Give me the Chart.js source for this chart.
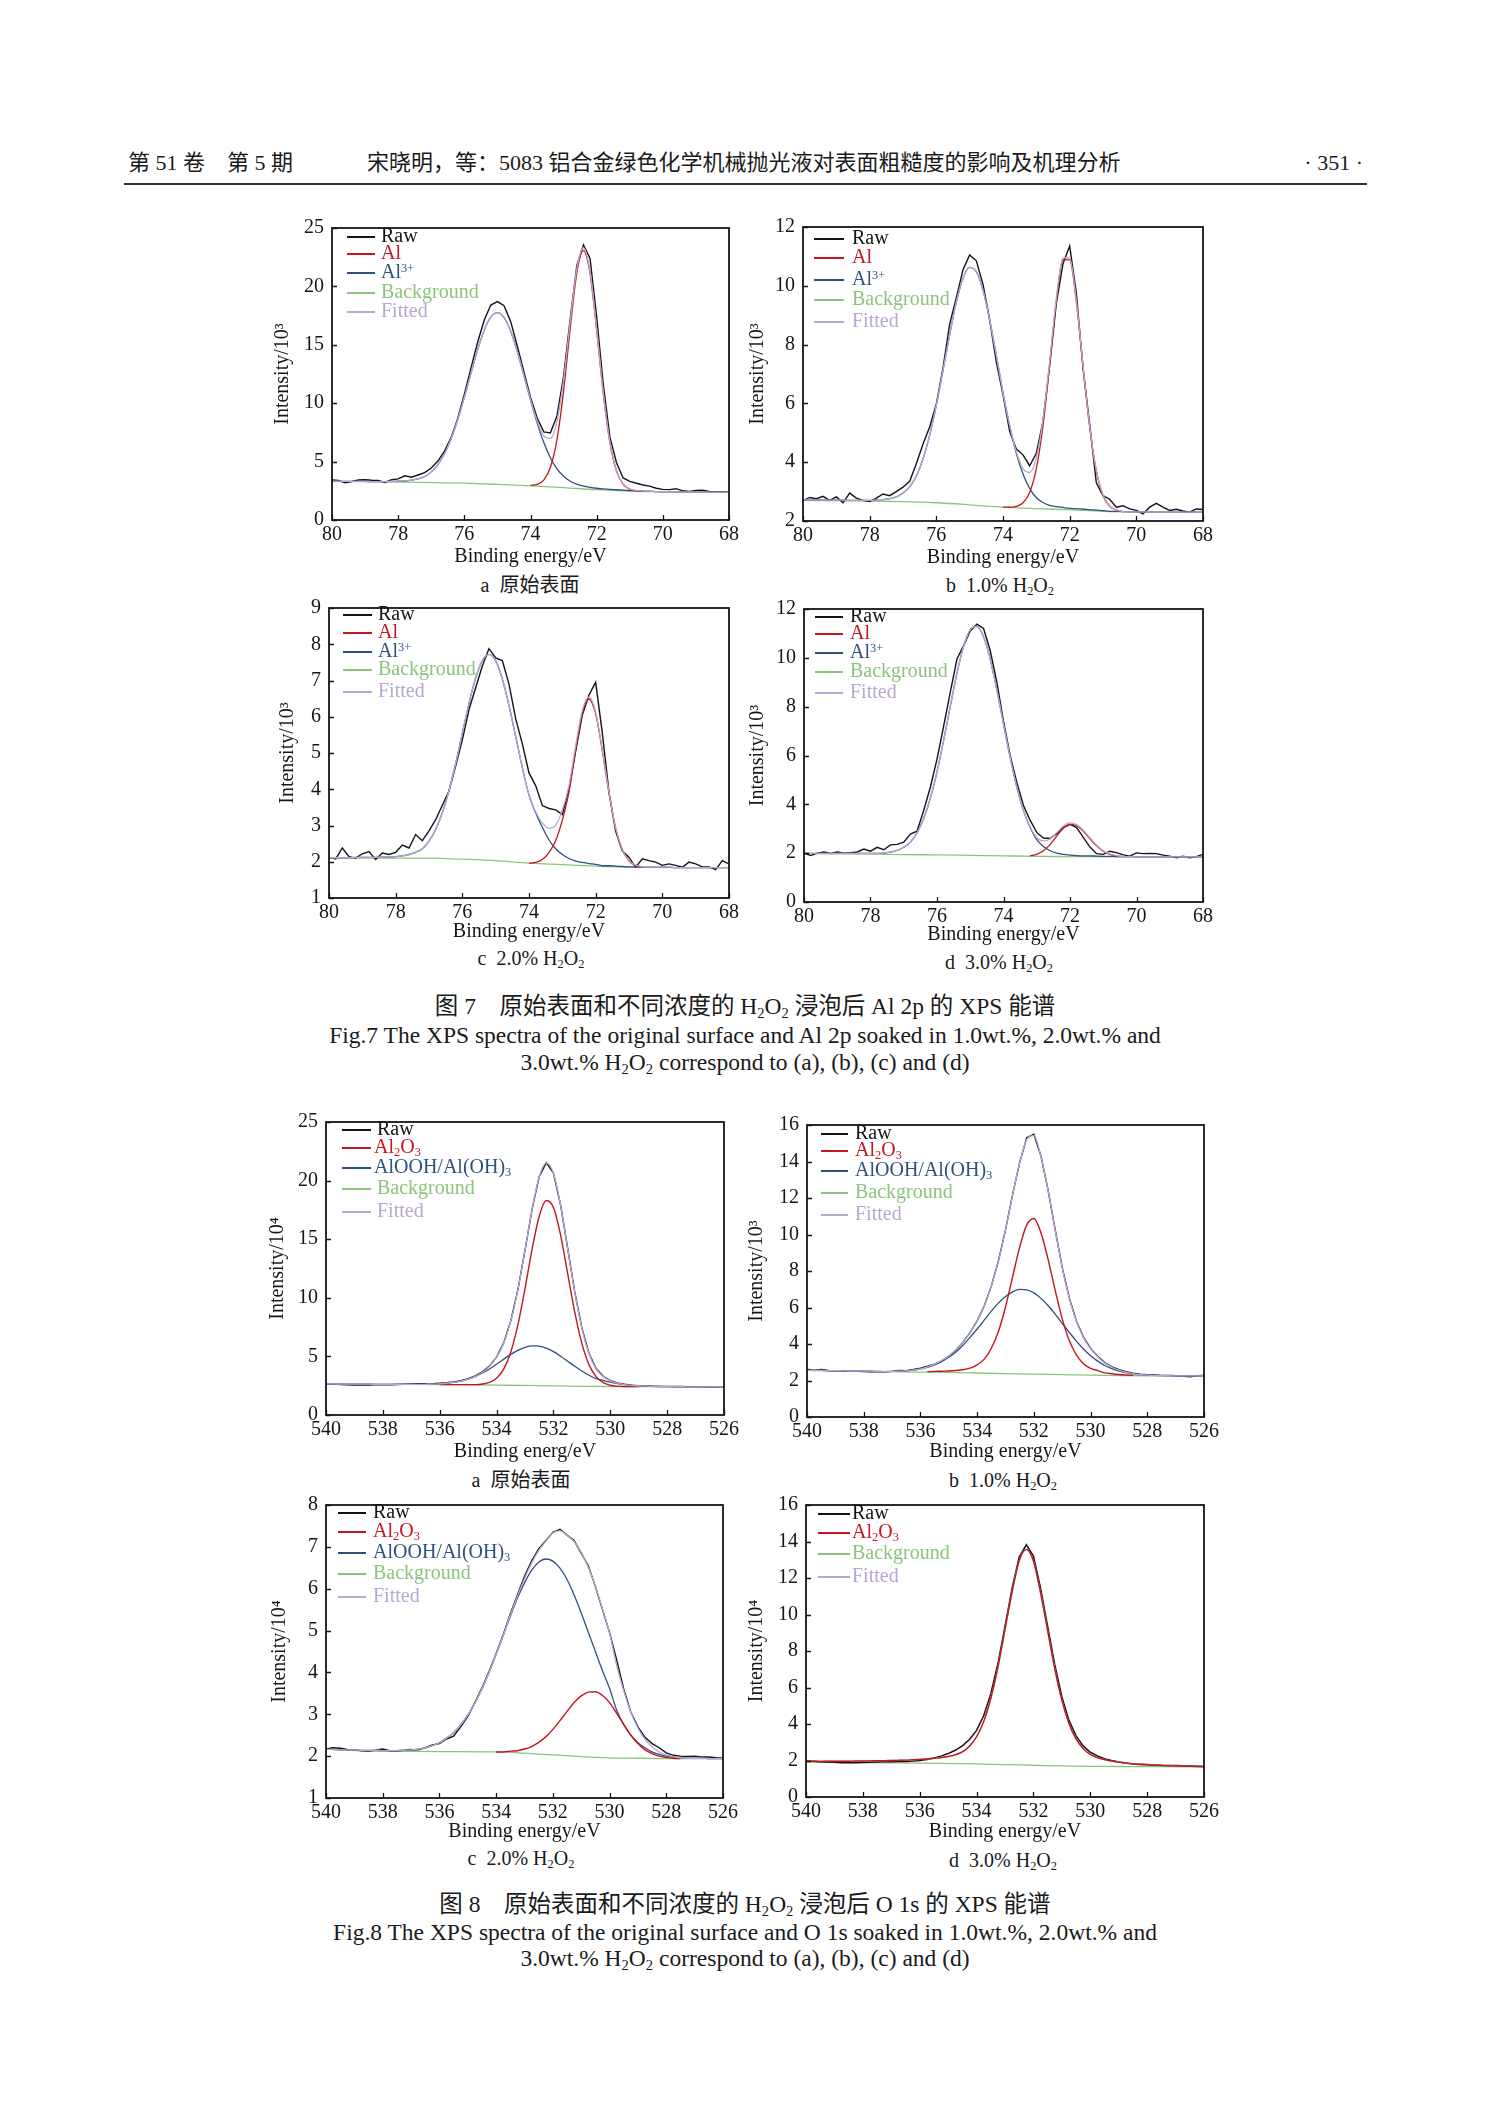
<!DOCTYPE html>
<html lang="zh-CN">
<head>
<meta charset="utf-8">
<title>Fig.7 / Fig.8 XPS spectra</title>
<script src="https://cdn.jsdelivr.net/npm/chart.js@4.4.1/dist/chart.umd.min.js"></script>
<style>
html,body{margin:0;padding:0;background:#fff;}
body{position:relative;width:1489px;height:2106px;overflow:hidden;font-family:'Liberation Serif','Noto Sans CJK SC',serif;color:#1a1a1a;}
.t{position:absolute;white-space:nowrap;line-height:1;}
.c{transform:translate(-50%,-50%);}
.cap{position:absolute;left:245px;width:1000px;text-align:center;font-size:23.5px;line-height:1;white-space:nowrap;}
sub{font-size:0.62em;vertical-align:-0.28em;line-height:0;}
sup{font-size:0.62em;vertical-align:0.48em;line-height:0;}
.lg{position:absolute;font-size:20px;line-height:20px;white-space:nowrap;}
.ln{position:absolute;height:1.4px;}
canvas{position:absolute;}
</style>
</head>
<body>
<div class="t" style="left:128px;top:152px;font-size:22px;">第 51 卷　第 5 期</div>
<div class="t" style="left:367px;top:152px;font-size:22px;">宋晓明，等：5083 铝合金绿色化学机械抛光液对表面粗糙度的影响及机理分析</div>
<div class="t" style="right:126px;top:152px;font-size:22px;">· 351 ·</div>
<div style="position:absolute;left:124px;top:183px;width:1243px;height:1.6px;background:#333;"></div>

<div class="t c" style="left:530px;top:585px;font-size:20px;">a&nbsp;&nbsp;原始表面</div>
<div class="t c" style="left:1000px;top:585px;font-size:20px;">b&nbsp;&nbsp;1.0% H<sub>2</sub>O<sub>2</sub></div>
<div class="t c" style="left:531px;top:958px;font-size:20px;">c&nbsp;&nbsp;2.0% H<sub>2</sub>O<sub>2</sub></div>
<div class="t c" style="left:999px;top:962px;font-size:20px;">d&nbsp;&nbsp;3.0% H<sub>2</sub>O<sub>2</sub></div>

<div class="cap" style="top:995px;">图 7　原始表面和不同浓度的 H<sub>2</sub>O<sub>2</sub> 浸泡后 Al 2p 的 XPS 能谱</div>
<div class="cap" style="top:1024px;">Fig.7 The XPS spectra of the original surface and Al 2p soaked in 1.0wt.%, 2.0wt.% and</div>
<div class="cap" style="top:1051px;">3.0wt.% H<sub>2</sub>O<sub>2</sub> correspond to (a), (b), (c) and (d)</div>

<div class="t c" style="left:521px;top:1480px;font-size:20px;">a&nbsp;&nbsp;原始表面</div>
<div class="t c" style="left:1003px;top:1480px;font-size:20px;">b&nbsp;&nbsp;1.0% H<sub>2</sub>O<sub>2</sub></div>
<div class="t c" style="left:521px;top:1858px;font-size:20px;">c&nbsp;&nbsp;2.0% H<sub>2</sub>O<sub>2</sub></div>
<div class="t c" style="left:1003px;top:1860px;font-size:20px;">d&nbsp;&nbsp;3.0% H<sub>2</sub>O<sub>2</sub></div>

<div class="cap" style="top:1893px;">图 8　原始表面和不同浓度的 H<sub>2</sub>O<sub>2</sub> 浸泡后 O 1s 的 XPS 能谱</div>
<div class="cap" style="top:1921px;">Fig.8 The XPS spectra of the original surface and O 1s soaked in 1.0wt.%, 2.0wt.% and</div>
<div class="cap" style="top:1947px;">3.0wt.% H<sub>2</sub>O<sub>2</sub> correspond to (a), (b), (c) and (d)</div>

<script>
// ---------------- DATA ----------------
// Binding-energy grids (eV)
const E_AL = [80,79.8,79.6,79.4,79.2,79,78.8,78.6,78.4,78.2, 78,77.8,77.6,77.4,77.2,77,76.8,76.6,76.4,76.2,
  76,75.8,75.6,75.4,75.2,75,74.8,74.6,74.4,74.2, 74,73.8,73.6,73.4,73.2,73,72.8,72.6,72.4,72.2,
  72,71.8,71.6,71.4,71.2,71,70.8,70.6,70.4,70.2, 70,69.8,69.6,69.4,69.2,69,68.8,68.6,68.4,68.2, 68];
const E_O = [540,539.75,539.5,539.25,539,538.75,538.5,538.25, 538,537.75,537.5,537.25,537,536.75,536.5,536.25,
  536,535.75,535.5,535.25,535,534.75,534.5,534.25, 534,533.75,533.5,533.25,533,532.75,532.5,532.25,
  532,531.75,531.5,531.25,531,530.75,530.5,530.25, 530,529.75,529.5,529.25,529,528.75,528.5,528.25,
  528,527.75,527.5,527.25,527,526.75,526.5,526.25, 526];

// Fig.7a  原始表面 (Al 2p, ×10^3)
const f7a_raw = [3.42,3.38,3.18,3.30,3.42,3.45,3.40,3.38,3.22,3.45, 3.52,3.78,3.66,3.85,4.05,4.45,5.05,5.90,7.05,8.70,
  10.75,13.00,15.20,17.10,18.40,18.70,18.35,17.00,14.90,12.70, 10.50,8.75,7.55,7.45,8.90,12.30,17.20,21.80,23.55,22.40,
  17.40,11.60,7.10,4.90,3.60,3.30,3.15,3.00,2.90,2.72, 2.62,2.60,2.68,2.50,2.45,2.52,2.55,2.44,2.40,2.42, 2.38];
const f7a_al3 = [3.32,3.32,3.31,3.31,3.30,3.30,3.29,3.29,3.29,3.31, 3.32,3.34,3.41,3.52,3.72,4.12,4.75,5.67,6.95,8.58,
  10.50,12.56,14.56,16.25,17.37,17.75,17.33,16.16,14.43,12.38, 10.28,8.32,6.65,5.33,4.37,3.74,3.32,3.07,2.91,2.80,
  2.72,2.66,2.62,2.59,2.55,2.52,2.50,2.48,2.46,2.43, 2.42,2.42,2.41,2.41,2.40,2.40,2.40,2.39,2.39,2.38, 2.38];
const f7a_fit = [3.32,3.32,3.31,3.31,3.30,3.30,3.29,3.29,3.29,3.31, 3.32,3.34,3.41,3.52,3.72,4.12,4.75,5.67,6.95,8.58,
  10.50,12.56,14.56,16.25,17.37,17.75,17.33,16.16,14.43,12.38, 10.31,8.47,7.20,6.98,8.45,11.99,16.96,21.52,23.31,21.25,
  16.36,10.91,6.70,4.24,3.10,2.67,2.53,2.48,2.46,2.43, 2.42,2.42,2.41,2.41,2.40,2.40,2.40,2.39,2.39,2.38, 2.38];
const f7a_alE = [74,73.8,73.6,73.4,73.2,73,72.8,72.6,72.4,72.2,72,71.8,71.6,71.4,71.2,71,70.8,70.6];
const f7a_al  = [2.96,3.05,3.42,4.49,6.89,11.03,16.38,21.16,23.07,21.09,16.24,10.83,6.63,4.18,3.05,2.63,2.50,2.46];
const f7a_bgE = [80,79,78,77,76,75,74,73,72,71,70,69,68];
const f7a_bg  = [3.30,3.28,3.25,3.20,3.15,3.05,2.93,2.78,2.60,2.48,2.42,2.40,2.38];

// Fig.7b  1.0% H2O2
const f7b_raw = [2.69,2.80,2.76,2.84,2.70,2.82,2.62,2.95,2.78,2.70, 2.66,2.78,2.92,2.86,3.00,3.15,3.35,3.95,4.62,5.20,
  5.98,7.20,8.70,9.60,10.55,11.05,10.85,10.05,8.85,7.40, 6.30,5.05,4.45,4.25,3.88,4.30,5.40,7.30,9.40,10.75,
  11.35,9.75,7.20,5.30,3.30,2.86,2.74,2.47,2.52,2.41, 2.36,2.24,2.47,2.60,2.47,2.36,2.40,2.34,2.30,2.41, 2.39];
const f7b_al3 = [2.72,2.72,2.72,2.71,2.71,2.71,2.71,2.70,2.70,2.70, 2.70,2.72,2.73,2.76,2.82,2.95,3.16,3.53,4.11,4.91,
  5.94,7.12,8.34,9.45,10.26,10.63,10.48,9.85,8.84,7.63, 6.37,5.24,4.30,3.60,3.11,2.79,2.63,2.53,2.49,2.46,
  2.43,2.42,2.40,2.39,2.37,2.35,2.33,2.33,2.32,2.31, 2.31,2.31,2.31,2.30,2.30,2.30,2.30,2.30,2.30,2.30, 2.30];
const f7b_fit = [2.72,2.72,2.72,2.71,2.71,2.71,2.71,2.70,2.70,2.70, 2.70,2.72,2.73,2.76,2.82,2.95,3.16,3.53,4.11,4.91,
  5.94,7.12,8.34,9.45,10.26,10.63,10.48,9.85,8.84,7.63, 6.37,5.25,4.35,3.78,3.65,4.15,5.46,7.44,9.57,10.96,
  10.93,9.50,7.31,5.22,3.73,2.89,2.51,2.38,2.32,2.31, 2.31,2.31,2.31,2.30,2.30,2.30,2.30,2.30,2.30,2.30, 2.30];
const f7b_alE = [74,73.8,73.6,73.4,73.2,73,72.8,72.6,72.4,72.2,72,71.8,71.6,71.4,71.2,71,70.8,70.6,70.4];
const f7b_al  = [2.47,2.47,2.50,2.62,2.97,3.78,5.24,7.31,9.48,10.89,10.88,9.45,7.27,5.18,3.70,2.87,2.50,2.37,2.32];
const f7b_bgE = [80,78,77,76,75,74,73,72,71,70,68];
const f7b_bg  = [2.70,2.68,2.66,2.62,2.55,2.47,2.42,2.38,2.33,2.31,2.30];

// Fig.7c  2.0% H2O2
const f7c_raw = [2.12,2.08,2.38,2.14,2.10,2.22,2.28,2.06,2.24,2.20, 2.26,2.46,2.38,2.75,2.58,2.85,3.16,3.56,3.95,4.64,
  5.36,6.20,6.80,7.40,7.88,7.62,7.55,6.90,5.95,5.25, 4.45,4.10,3.55,3.47,3.43,3.30,4.00,5.05,6.05,6.60,
  6.95,5.55,3.92,2.84,2.30,2.12,1.85,2.08,2.03,1.99, 1.90,1.94,1.90,1.85,1.99,1.94,1.86,1.86,1.78,2.03, 1.94];
const f7c_al3 = [2.11,2.11,2.11,2.11,2.12,2.12,2.12,2.12,2.13,2.13, 2.14,2.16,2.20,2.26,2.36,2.57,2.89,3.35,3.96,4.71,
  5.54,6.37,7.07,7.55,7.72,7.54,7.04,6.31,5.46,4.60, 3.84,3.35,2.95,2.60,2.36,2.20,2.09,2.02,1.98,1.95,
  1.93,1.89,1.89,1.88,1.87,1.86,1.86,1.85,1.85,1.85, 1.85,1.85,1.84,1.84,1.84,1.84,1.84,1.84,1.84,1.84, 1.84];
const f7c_fit = [2.11,2.11,2.11,2.11,2.12,2.12,2.12,2.12,2.13,2.13, 2.14,2.16,2.20,2.26,2.36,2.57,2.89,3.35,3.96,4.71,
  5.54,6.37,7.07,7.55,7.72,7.54,7.04,6.31,5.46,4.60, 3.84,3.38,3.07,2.92,3.01,3.43,4.11,5.21,6.18,6.55,
  6.13,5.08,3.91,2.94,2.34,2.03,1.91,1.86,1.85,1.85, 1.85,1.85,1.84,1.84,1.84,1.84,1.84,1.84,1.84,1.84, 1.84];
const f7c_alE = [74,73.8,73.6,73.4,73.2,73,72.8,72.6,72.4,72.2,72,71.8,71.6,71.4,71.2,71,70.8,70.6];
const f7c_al  = [1.96,1.98,2.06,2.25,2.58,3.15,3.93,5.09,6.10,6.49,6.08,5.06,3.89,2.92,2.33,2.02,1.90,1.86];
const f7c_bgE = [80,78,77,76,75,74,73,72,71,70,68];
const f7c_bg  = [2.10,2.10,2.10,2.07,2.03,1.96,1.92,1.88,1.85,1.84,1.84];

// Fig.7d  3.0% H2O2
const f7d_raw = [2.01,1.90,2.00,2.05,1.99,2.05,2.00,2.02,2.05,2.17, 2.08,2.24,2.14,2.34,2.36,2.45,2.78,2.90,3.75,4.70,
  5.85,7.20,8.60,9.95,10.50,11.10,11.38,11.20,10.30,9.00, 7.40,6.00,4.90,3.95,3.35,2.85,2.62,2.60,2.80,3.05,
  3.18,3.05,2.65,2.25,1.98,1.95,2.08,2.02,1.93,1.88, 2.01,1.98,1.99,1.98,1.92,1.88,1.81,1.87,1.81,1.86, 1.95];
const f7d_al3 = [1.99,1.99,1.99,1.99,1.99,1.99,1.99,1.99,1.99,1.99, 1.99,1.99,2.01,2.04,2.11,2.24,2.45,2.83,3.42,4.25,
  5.33,6.63,8.02,9.37,10.47,11.15,11.29,10.86,9.95,8.69, 7.29,5.92,4.71,3.75,3.06,2.55,2.27,2.10,2.00,1.95,
  1.92,1.90,1.89,1.89,1.88,1.87,1.87,1.86,1.86,1.86, 1.85,1.85,1.85,1.85,1.85,1.85,1.85,1.85,1.85,1.85, 1.85];
const f7d_fit = [1.99,1.99,1.99,1.99,1.99,1.99,1.99,1.99,1.99,1.99, 1.99,1.99,2.01,2.04,2.11,2.24,2.45,2.83,3.42,4.25,
  5.33,6.63,8.02,9.37,10.47,11.15,11.29,10.86,9.95,8.69, 7.29,5.92,4.71,3.75,3.09,2.63,2.50,2.58,2.84,3.11,
  3.24,3.17,2.94,2.63,2.33,2.10,1.97,1.90,1.86,1.86, 1.85,1.85,1.85,1.85,1.85,1.85,1.85,1.85,1.85,1.85, 1.85];
const f7d_alE = [73.2,73,72.8,72.6,72.4,72.2,72,71.8,71.6,71.4,71.2,71,70.8,70.6,70.4];
const f7d_al  = [1.90,1.95,2.10,2.35,2.70,3.02,3.18,3.13,2.90,2.59,2.30,2.08,1.95,1.89,1.86];
const f7d_bgE = [80,78,77,76,75,74,73,72,71,70,68];
const f7d_bg  = [1.97,1.96,1.94,1.93,1.91,1.89,1.87,1.86,1.85,1.85,1.85];

// Fig.8a  原始表面 (O 1s, ×10^4)
const f8a_raw = [2.66,2.64,2.60,2.58,2.55,2.55,2.56,2.58, 2.57,2.58,2.60,2.63,2.65,2.66,2.66,2.68,
  2.72,2.76,2.82,2.93,3.10,3.33,3.68,4.17, 4.93,6.15,8.03,10.70,14.05,17.57,20.35,21.53,
  20.65,17.94,14.23,10.50,7.43,5.27,3.96,3.30, 2.93,2.74,2.62,2.55,2.50,2.47,2.45,2.44,
  2.44,2.43,2.44,2.42,2.42,2.41,2.41,2.40, 2.40];
const f8a_oh = [2.65,2.65,2.64,2.64,2.64,2.63,2.63,2.62, 2.62,2.62,2.62,2.62,2.62,2.61,2.62,2.63,
  2.66,2.71,2.78,2.90,3.06,3.28,3.58,3.93, 4.33,4.76,5.17,5.52,5.78,5.90,5.87,5.70,
  5.41,5.02,4.59,4.16,3.75,3.39,3.10,2.95, 2.80,2.68,2.59,2.53,2.49,2.46,2.44,2.43,
  2.42,2.41,2.41,2.40,2.40,2.40,2.40,2.40, 2.40];
const f8a_fit = [2.65,2.65,2.64,2.64,2.64,2.63,2.63,2.62, 2.62,2.62,2.62,2.62,2.62,2.61,2.62,2.63,
  2.66,2.71,2.78,2.90,3.07,3.30,3.65,4.15, 4.91,6.13,8.01,10.68,14.04,17.55,20.33,21.51,
  20.63,17.92,14.21,10.48,7.41,5.25,3.94,3.28, 2.91,2.72,2.60,2.53,2.49,2.46,2.44,2.43,
  2.42,2.41,2.41,2.40,2.40,2.40,2.40,2.40, 2.40];
const f8a_oxE = [536,535.75,535.5,535.25,535,534.75,534.5,534.25,534,533.75,533.5,533.25,533,532.75,532.5,532.25,
  532,531.75,531.5,531.25,531,530.75,530.5,530.25,530,529.75,529.5,529.25,529];
const f8a_ox  = [2.60,2.60,2.59,2.59,2.59,2.59,2.64,2.78,3.13,3.91,5.38,7.69,10.78,14.16,16.96,18.30,
  17.70,15.37,12.08,8.78,6.11,4.30,3.28,2.76,2.54,2.46,2.43,2.42,2.42];
const f8a_bgE = [540,538,536,535,534,533,532,531,530,529,528,526];
const f8a_bg  = [2.65,2.62,2.60,2.58,2.55,2.52,2.48,2.45,2.43,2.42,2.41,2.40];

// Fig.8b  1.0% H2O2 (×10^3)
const f8b_raw = [2.62,2.55,2.60,2.55,2.53,2.52,2.52,2.50, 2.49,2.48,2.47,2.48,2.50,2.55,2.54,2.60,
  2.68,2.78,2.90,3.08,3.33,3.66,4.10,4.62, 5.27,6.08,7.17,8.55,10.25,12.18,13.95,15.30,
  15.50,14.30,12.45,10.28,8.20,6.52,5.26,4.37, 3.76,3.33,2.98,2.76,2.60,2.48,2.40,2.35,
  2.32,2.30,2.28,2.28,2.26,2.25,2.20,2.26, 2.28];
const f8b_oh = [2.56,2.55,2.55,2.54,2.54,2.53,2.52,2.52, 2.51,2.51,2.50,2.49,2.50,2.51,2.53,2.57,
  2.63,2.72,2.85,3.03,3.27,3.56,3.93,4.36, 4.82,5.31,5.80,6.24,6.60,6.86,6.99,6.96,
  6.80,6.50,6.11,5.64,5.13,4.63,4.16,3.73, 3.36,3.06,2.82,2.65,2.51,2.43,2.36,2.32,
  2.29,2.28,2.27,2.26,2.25,2.25,2.25,2.25, 2.25];
const f8b_fit = [2.56,2.55,2.55,2.54,2.54,2.53,2.52,2.52, 2.51,2.51,2.50,2.49,2.50,2.51,2.53,2.57,
  2.63,2.75,2.90,3.10,3.35,3.68,4.10,4.62, 5.27,6.08,7.17,8.54,10.25,12.16,13.93,15.20,
  15.42,14.26,12.42,10.26,8.19,6.51,5.25,4.35, 3.74,3.31,2.96,2.74,2.57,2.46,2.38,2.32,
  2.29,2.28,2.27,2.26,2.25,2.25,2.25,2.25, 2.25];
const f8b_oxE = [535.75,535.5,535.25,535,534.75,534.5,534.25,534,533.75,533.5,533.25,533,532.75,532.5,532.25,
  532,531.75,531.5,531.25,531,530.75,530.5,530.25,530,529.75,529.5,529.25,529,528.75,528.5];
const f8b_ox  = [2.48,2.50,2.51,2.52,2.55,2.59,2.68,2.86,3.17,3.77,4.69,6.03,7.67,9.31,10.53,
  10.88,10.10,8.65,6.95,5.38,4.19,3.40,2.92,2.67,2.54,2.42,2.37,2.33,2.30,2.28];
const f8b_bgE = [540,538,536,535,534,533,532,531,530,529,528,526];
const f8b_bg  = [2.55,2.50,2.46,2.44,2.41,2.38,2.35,2.32,2.29,2.27,2.26,2.25];

// Fig.8c  2.0% H2O2 (×10^4)
const f8c_raw = [2.17,2.20,2.19,2.16,2.15,2.13,2.12,2.14, 2.17,2.13,2.13,2.14,2.16,2.15,2.20,2.27,
  2.30,2.41,2.48,2.70,2.95,3.28,3.63,4.02, 4.45,4.90,5.40,5.85,6.30,6.66,6.95,7.15,
  7.35,7.42,7.28,7.15,6.85,6.55,6.05,5.50, 4.95,4.30,3.60,3.05,2.70,2.45,2.30,2.20,
  2.08,2.02,2.00,1.99,2.00,1.98,1.98,1.96, 1.95];
const f8c_oh = [2.16,2.16,2.15,2.15,2.15,2.14,2.14,2.14, 2.13,2.13,2.13,2.14,2.15,2.17,2.20,2.25,
  2.32,2.43,2.56,2.75,2.98,3.27,3.61,4.00, 4.44,4.88,5.34,5.77,6.14,6.44,6.63,6.71,
  6.66,6.49,6.22,5.85,5.42,4.96,4.50,4.04, 3.62,3.10,2.75,2.50,2.32,2.20,2.10,2.04,
  2.00,1.98,1.96,1.95,1.95,1.95,1.94,1.94, 1.94];
const f8c_fit = [2.16,2.16,2.15,2.15,2.15,2.14,2.14,2.14, 2.13,2.13,2.13,2.14,2.15,2.17,2.20,2.25,
  2.32,2.43,2.56,2.75,2.98,3.27,3.61,4.00, 4.44,4.88,5.37,5.82,6.24,6.61,6.91,7.13,
  7.33,7.38,7.28,7.13,6.87,6.51,6.06,5.52, 4.94,4.16,3.56,3.05,2.67,2.40,2.22,2.10,
  2.03,1.99,1.96,1.95,1.95,1.95,1.94,1.94, 1.94];
const f8c_oxE = [534,533.75,533.5,533.25,533,532.75,532.5,532.25,532,531.75,531.5,531.25,531,530.75,530.5,530.25,
  530,529.75,529.5,529.25,529,528.75,528.5,528.25,528,527.75,527.5];
const f8c_ox  = [2.10,2.10,2.12,2.13,2.17,2.23,2.33,2.46,2.64,2.85,3.07,3.28,3.44,3.53,3.54,3.45,
  3.28,3.02,2.76,2.50,2.30,2.15,2.06,2.00,1.97,1.95,1.94];
const f8c_bgE = [540,538,536,534,533,532,531,530,529,528,526];
const f8c_bg  = [2.16,2.12,2.11,2.10,2.07,2.03,1.99,1.96,1.95,1.94,1.94];

// Fig.8d  3.0% H2O2 (×10^4)
const f8d_raw = [1.97,1.96,1.93,1.92,1.90,1.88,1.88,1.88, 1.89,1.90,1.92,1.93,1.93,1.94,1.95,1.97,
  2.00,2.06,2.14,2.24,2.38,2.56,2.80,3.15, 3.65,4.45,5.65,7.30,9.35,11.45,13.15,13.82,
  13.20,11.45,9.35,7.25,5.50,4.20,3.35,2.80, 2.45,2.25,2.10,2.00,1.92,1.86,1.81,1.80,
  1.78,1.76,1.74,1.73,1.72,1.71,1.70,1.69, 1.67];
const f8d_ox = [1.96,1.96,1.95,1.96,1.96,1.96,1.96,1.97, 1.97,1.98,1.99,1.99,2.00,2.01,2.02,2.04,
  2.06,2.08,2.12,2.16,2.22,2.31,2.47,2.78, 3.30,4.13,5.40,7.11,9.17,11.24,12.95,13.57,
  12.93,11.20,9.12,7.04,5.31,4.03,3.18,2.65, 2.33,2.16,2.05,1.97,1.91,1.86,1.81,1.78,
  1.76,1.74,1.73,1.71,1.70,1.69,1.68,1.67, 1.67];
const f8d_fit = [1.96,1.96,1.95,1.96,1.96,1.96,1.96,1.97, 1.97,1.98,1.99,1.99,2.00,2.01,2.02,2.04,
  2.06,2.08,2.12,2.16,2.22,2.31,2.47,2.78, 3.30,4.13,5.40,7.11,9.17,11.24,12.95,13.57,
  12.93,11.20,9.12,7.04,5.31,4.03,3.18,2.65, 2.33,2.16,2.05,1.97,1.91,1.86,1.81,1.78,
  1.76,1.74,1.73,1.71,1.70,1.69,1.68,1.67, 1.67];
const f8d_bgE = [540,538,536,534,533,532,531,530,529,528,526];
const f8d_bg  = [1.91,1.88,1.86,1.81,1.77,1.74,1.70,1.68,1.67,1.66,1.65];

// Legend labels
const LAB_AL = ['Raw','Al','Al<sup>3+</sup>','Background','Fitted'];
const LAB_O  = ['Raw','Al<sub>2</sub>O<sub>3</sub>','AlOOH/Al(OH)<sub>3</sub>','Background','Fitted'];
const LAB_O4 = ['Raw','Al<sub>2</sub>O<sub>3</sub>','Background','Fitted'];

// ---------------- STYLE ----------------
const FONT = "'Liberation Serif', 'Times New Roman', serif";
const COL = {raw:'#141414', red:'#c3161d', blue:'#2f507f', bg:'#8cc47f', fit:'#b8a7d3'};
const COLS5 = [COL.raw, COL.red, COL.blue, COL.bg, COL.fit];
const COLS4 = [COL.raw, COL.red, COL.bg, COL.fit];

function ds(xs, ys, color, w, smooth){
  return {data: xs.map((x,i)=>({x:x, y:ys[i]})), borderColor: color, borderWidth: w,
    pointRadius: 0, fill: false, tension: 0, cubicInterpolationMode: smooth ? 'monotone' : 'default'};
}

const framePlugin = {
  id: 'frameTicks',
  afterDraw(chart){
    const {ctx, chartArea: a, scales} = chart;
    ctx.save();
    ctx.strokeStyle = '#151515';
    ctx.lineWidth = 1.3;
    ctx.beginPath();
    scales.x.ticks.forEach(t => { const px = Math.round(scales.x.getPixelForValue(t.value)) + 0.5; ctx.moveTo(px, a.bottom); ctx.lineTo(px, a.bottom - 5); });
    scales.y.ticks.forEach(t => { const py = Math.round(scales.y.getPixelForValue(t.value)) + 0.5; ctx.moveTo(a.left, py); ctx.lineTo(a.left + 5, py); });
    ctx.stroke();
    ctx.lineWidth = 1.8;
    ctx.strokeRect(a.left, a.top, a.right - a.left, a.bottom - a.top);
    ctx.restore();
  }
};

function makeChart(s){
  const W = s.yOff + 12, Hx = s.xOff + 12, padTop = 14, padRight = 22;
  const left = s.L - W, top = s.T - padTop;
  const width = W + (s.R - s.L) + padRight;
  const height = padTop + (s.B - s.T) + Hx;
  const cv = document.createElement('canvas');
  cv.width = width; cv.height = height;
  cv.style.left = left + 'px'; cv.style.top = top + 'px';
  cv.style.width = width + 'px'; cv.style.height = height + 'px';
  document.body.appendChild(cv);
  const tickFont = {family: FONT, size: 20};
  new Chart(cv, {
    type: 'line',
    data: {datasets: s.sets},
    options: {
      responsive: false, animation: false, devicePixelRatio: 1,
      layout: {padding: {left: 0, top: padTop, right: padRight, bottom: 0}},
      plugins: {legend: {display: false}, tooltip: {enabled: false}},
      scales: {
        x: {type: 'linear', reverse: true, min: s.xmin, max: s.xmax,
            grid: {display: false, drawTicks: false, tickLength: 0}, border: {display: false},
            ticks: {stepSize: 2, padding: 3, color: '#161616', font: tickFont, maxRotation: 0, autoSkip: false},
            title: {display: true, text: s.xTitle, color: '#161616', font: tickFont, padding: 0},
            afterFit(sc){ sc.height = Hx; }},
        y: {type: 'linear', min: s.ymin, max: s.ymax,
            grid: {display: false, drawTicks: false, tickLength: 0}, border: {display: false},
            ticks: {stepSize: s.ystep, padding: 8, color: '#161616', font: tickFont, autoSkip: false},
            title: {display: true, text: s.yTitle, color: '#161616', font: tickFont, padding: 0},
            afterFit(sc){ sc.width = W; }}
      }
    },
    plugins: [framePlugin]
  });
}

function legend(lx1, lx2, tx, ys, labels, colors){
  labels.forEach((lab, i) => {
    const ln = document.createElement('div');
    ln.className = 'ln';
    ln.style.left = lx1 + 'px'; ln.style.top = (ys[i] - 0.7) + 'px';
    ln.style.width = (lx2 - lx1) + 'px'; ln.style.background = colors[i];
    document.body.appendChild(ln);
    const t = document.createElement('div');
    t.className = 'lg';
    const x = Array.isArray(tx) ? tx[i] : tx;
    t.style.left = x + 'px'; t.style.top = (ys[i] - 12) + 'px'; t.style.color = colors[i];
    t.innerHTML = lab;
    document.body.appendChild(t);
  });
}

// ---------------- CHARTS ----------------
const AL = {xmin: 68, xmax: 80, xTitle: 'Binding energy/eV'};
const OX = {xmin: 526, xmax: 540};

makeChart(Object.assign({L:332,T:222,R:729,B:520,yOff:49,xOff:37,ymin:0,ymax:25,ystep:5,yTitle:'Intensity/10³',
  sets:[ds(E_AL,f7a_fit,COL.fit,1.3,true), ds(f7a_alE,f7a_al,COL.red,1.3,true), ds(E_AL,f7a_al3,COL.blue,1.3,true),
        ds(E_AL,f7a_raw,COL.raw,1.4,false), ds(f7a_bgE,f7a_bg,COL.bg,1.3,true)]}, AL));
makeChart(Object.assign({L:803,T:221,R:1203,B:521,yOff:45,xOff:37,ymin:2,ymax:12,ystep:2,yTitle:'Intensity/10³',
  sets:[ds(E_AL,f7b_fit,COL.fit,1.3,true), ds(f7b_alE,f7b_al,COL.red,1.3,true), ds(E_AL,f7b_al3,COL.blue,1.3,true),
        ds(E_AL,f7b_raw,COL.raw,1.4,false), ds(f7b_bgE,f7b_bg,COL.bg,1.3,true)]}, AL));
makeChart(Object.assign({L:329,T:602,R:729,B:898,yOff:41,xOff:34,ymin:1,ymax:9,ystep:1,yTitle:'Intensity/10³',
  sets:[ds(E_AL,f7c_fit,COL.fit,1.3,true), ds(f7c_alE,f7c_al,COL.red,1.3,true), ds(E_AL,f7c_al3,COL.blue,1.3,true),
        ds(E_AL,f7c_raw,COL.raw,1.4,false), ds(f7c_bgE,f7c_bg,COL.bg,1.3,true)]}, AL));
makeChart(Object.assign({L:804,T:603,R:1203,B:902,yOff:46,xOff:33,ymin:0,ymax:12,ystep:2,yTitle:'Intensity/10³',
  sets:[ds(E_AL,f7d_fit,COL.fit,1.3,true), ds(f7d_alE,f7d_al,COL.red,1.3,true), ds(E_AL,f7d_al3,COL.blue,1.3,true),
        ds(E_AL,f7d_raw,COL.raw,1.4,false), ds(f7d_bgE,f7d_bg,COL.bg,1.3,true)]}, AL));

makeChart(Object.assign({L:326,T:1116,R:724,B:1415,yOff:48,xOff:37,ymin:0,ymax:25,ystep:5,yTitle:'Intensity/10⁴',xTitle:'Binding energ/eV',
  sets:[ds(E_O,f8a_fit,COL.fit,1.3,true), ds(f8a_oxE,f8a_ox,COL.red,1.4,true), ds(E_O,f8a_oh,COL.blue,1.3,true),
        ds(E_O,f8a_raw,COL.raw,1.4,false), ds(f8a_bgE,f8a_bg,COL.bg,1.3,true)]}, OX));
makeChart(Object.assign({L:807,T:1119,R:1204,B:1417,yOff:50,xOff:35,ymin:0,ymax:16,ystep:2,yTitle:'Intensity/10³',xTitle:'Binding energy/eV',
  sets:[ds(E_O,f8b_fit,COL.fit,1.3,true), ds(f8b_oxE,f8b_ox,COL.red,1.4,true), ds(E_O,f8b_oh,COL.blue,1.3,true),
        ds(E_O,f8b_raw,COL.raw,1.4,false), ds(f8b_bgE,f8b_bg,COL.bg,1.3,true)]}, OX));
makeChart(Object.assign({L:326,T:1499,R:723,B:1798,yOff:46,xOff:34,ymin:1,ymax:8,ystep:1,yTitle:'Intensity/10⁴',xTitle:'Binding energy/eV',
  sets:[ds(E_O,f8c_fit,COL.fit,1.3,true), ds(f8c_oxE,f8c_ox,COL.red,1.4,true), ds(E_O,f8c_oh,COL.blue,1.3,true),
        ds(E_O,f8c_raw,COL.raw,1.4,false), ds(f8c_bgE,f8c_bg,COL.bg,1.3,true)]}, OX));
makeChart(Object.assign({L:806,T:1499,R:1204,B:1797,yOff:49,xOff:35,ymin:0,ymax:16,ystep:2,yTitle:'Intensity/10⁴',xTitle:'Binding energy/eV',
  sets:[ds(E_O,f8d_ox,COL.red,1.4,true), ds(E_O,f8d_fit,COL.fit,1.3,true),
        ds(E_O,f8d_raw,COL.raw,1.5,false), ds(f8d_bgE,f8d_bg,COL.bg,1.3,true)]}, OX));

// ---------------- LEGENDS ----------------
legend(347, 375, 381, [237,254,273,293,312], LAB_AL, COLS5);
legend(814, 844, 852, [239,258,280,300,322], LAB_AL, COLS5);
legend(343, 372, 378, [615,633,652,670,692], LAB_AL, COLS5);
legend(815, 843, 850, [617,634,653,672,693], LAB_AL, COLS5);
legend(342, 371, [377,374,374,377,377], [1130,1148,1168,1189,1212], LAB_O, COLS5);
legend(821, 848, 855, [1134,1151,1171,1193,1215], LAB_O, COLS5);
legend(338, 366, 373, [1513,1532,1553,1574,1597], LAB_O, COLS5);
legend(818, 850, 852, [1514,1533,1554,1577], LAB_O4, COLS4);
</script>
</body>
</html>
